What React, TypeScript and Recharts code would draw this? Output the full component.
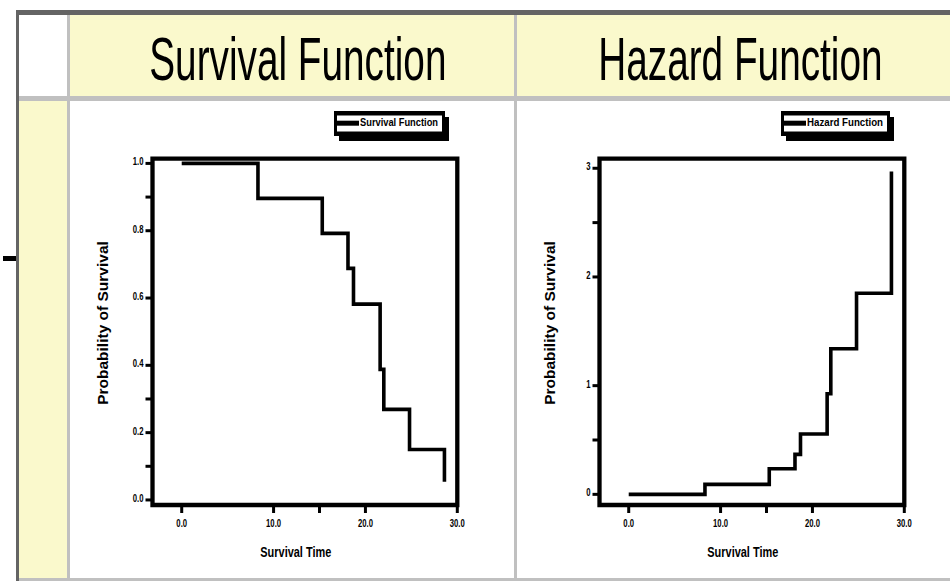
import React from 'react';
import { LineChart, Line, XAxis, YAxis, ReferenceArea, Legend } from 'recharts';

// event times shared by both curves
const times = [0, 8.3, 15.3, 18.1, 18.7, 21.6, 22.0, 24.8, 28.6];
const survival = [1.0, 0.896, 0.792, 0.688, 0.582, 0.388, 0.269, 0.15, 0.054];
const hazard = [0, 0.092, 0.236, 0.368, 0.555, 0.926, 1.34, 1.85, 2.97];

const xTicks = [0, 10, 15, 20, 30];
const xMajor = [0, 10, 20, 30];
const xLabels = ['0.0', '10.0', '20.0', '30.0'];

const survTicks = [0, 0.1, 0.2, 0.3, 0.4, 0.6, 0.8, 0.9, 1.0];
const survMajor = [0, 0.2, 0.4, 0.6, 0.8, 1.0];
const survLabels = ['0.0', '0.2', '0.4', '0.6', '0.8', '1.0'];

const hazTicks = [0, 0.5, 1, 2, 2.5, 3];
const hazMajor = [0, 1, 2, 3];
const hazLabels = ['0', '1', '2', '3'];

const headers = ['Survival Function', 'Hazard Function'];
const xTitle = 'Survival Time';
const yTitle = 'Probability of Survival';

const survData = times.map((t, i) => ({ t, v: survival[i] }));
const hazData = times.map((t, i) => ({ t, v: hazard[i] }));

const FONT = 'Liberation Sans, Arial, sans-serif';
const YELLOW = '#FAF9CC';
const GRAY = '#C0C0C0';
const DARK = '#646464';

const makeXTick = () => (props: any) => {
  const { x, y, payload } = props;
  const i = xMajor.indexOf(payload.value);
  if (i < 0) return <g />;
  return (
    <text transform={`translate(${x},${y + 12}) scale(0.7,1)`} textAnchor="middle"
      fontSize={11} fontWeight="bold" fontFamily={FONT} fill="#000">{xLabels[i]}</text>
  );
};

const makeYTick = (major: number[], labels: string[]) => (props: any) => {
  const { x, y, payload } = props;
  const i = major.indexOf(payload.value);
  if (i < 0) return <g />;
  return (
    <text transform={`translate(${x},${y + 2}) scale(0.7,1)`} textAnchor="end"
      fontSize={11} fontWeight="bold" fontFamily={FONT} fill="#000">{labels[i]}</text>
  );
};

const makeLegend = (name: string, W: number) => () => (
  <svg width={W} height={30} style={{ display: 'block' }}>
    <rect x={5} y={6} width={W - 5} height={24} fill="#000" />
    <rect x={0} y={0} width={W - 4} height={25} fill="#000" />
    <rect x={3} y={4.5} width={W - 10} height={16} fill="#fff" />
    <rect x={3} y={9.7} width={22} height={5} fill="#000" />
    <text x={26} y={14.7} fontSize={10.5} fontWeight="bold" fontFamily={FONT} fill="#000"
      textLength={W - 37} lengthAdjust="spacingAndGlyphs">{name}</text>
  </svg>
);

function Panel({ data, left, yDomain, yTicks, yMajor, yLabels, legendName, legendW }: any) {
  const xDomain = [-3.18, 30];
  return (
    <div style={{ position: 'absolute', left, top: 101 }}>
      <LineChart width={444} height={477} data={data}
        margin={{ top: 57.7, right: 56.7, left: 0, bottom: 0 }}>
        <XAxis type="number" dataKey="t" domain={xDomain} ticks={xTicks} allowDataOverflow
          axisLine={false} tickSize={8} tickLine={{ stroke: '#000', strokeWidth: 3 }}
          height={73} tick={makeXTick()} interval={0}
          label={() => (
            <text transform={`translate(225.8,456) scale(0.73,1)`} textAnchor="middle"
              fontSize={15} fontWeight="bold" fontFamily={FONT} fill="#000">{xTitle}</text>
          )} />
        <YAxis type="number" domain={yDomain} ticks={yTicks} allowDataOverflow
          axisLine={false} tickSize={7} tickLine={{ stroke: '#000', strokeWidth: 3 }}
          width={82.5} tick={makeYTick(yMajor, yLabels)} interval={0}
          label={() => (
            <text transform={`translate(38,222) rotate(-90)`} textAnchor="middle"
              fontSize={15.5} fontWeight="bold" fontFamily={FONT} fill="#000">{yTitle}</text>
          )} />
        <ReferenceArea x1={xDomain[0]} x2={xDomain[1]} y1={yDomain[0]} y2={yDomain[1]}
          fill="none" fillOpacity={0} stroke="#000" strokeWidth={4.3} ifOverflow="visible" />
        <Line type="stepAfter" dataKey="v" stroke="#000" strokeWidth={3.6} dot={false}
          activeDot={false} isAnimationActive={false} />
        <Legend layout="horizontal" verticalAlign="middle" align="center"
          content={makeLegend(legendName, legendW)}
          wrapperStyle={{ position: 'absolute', top: 10, left: 264, width: legendW, height: 30 }} />
      </LineChart>
    </div>
  );
}

export default function App() {
  const box = (l: number, t: number, w: number, h: number, bg: string) => (
    <div style={{ position: 'absolute', left: l, top: t, width: w, height: h, background: bg }} />
  );
  const headerLeft = [66, 515];
  return (
    <div style={{ position: 'absolute', left: 0, top: 0, width: 950, height: 581, overflow: 'hidden', background: '#fff' }}>
      {box(70, 15, 880, 81, YELLOW)}
      {box(19, 101, 48, 477, YELLOW)}
      {box(19, 96, 931, 5, GRAY)}
      {box(67, 15, 3, 563, GRAY)}
      {box(514, 15, 3, 563, GRAY)}
      {box(19, 578, 931, 3, GRAY)}
      {box(16, 10, 934, 5, DARK)}
      {box(16, 10, 3, 571, DARK)}
      {box(3, 256, 13, 5, '#000')}
      {headers.map((h, i) => (
        <div key={h} style={{
          position: 'absolute', left: headerLeft[i], top: 27.5, width: 444, textAlign: 'center',
          fontFamily: FONT, fontSize: 62, lineHeight: '62px', color: '#000',
          transform: 'scaleX(0.625)', transformOrigin: 'center', whiteSpace: 'nowrap'
        }}>{h}</div>
      ))}
      <Panel data={survData} left={70} yDomain={[-0.015, 1.014]} yTicks={survTicks}
        yMajor={survMajor} yLabels={survLabels} legendName="Survival Function" legendW={115} />
      <Panel data={hazData} left={517} yDomain={[-0.098, 3.088]} yTicks={hazTicks}
        yMajor={hazMajor} yLabels={hazLabels} legendName="Hazard Function" legendW={113} />
    </div>
  );
}
